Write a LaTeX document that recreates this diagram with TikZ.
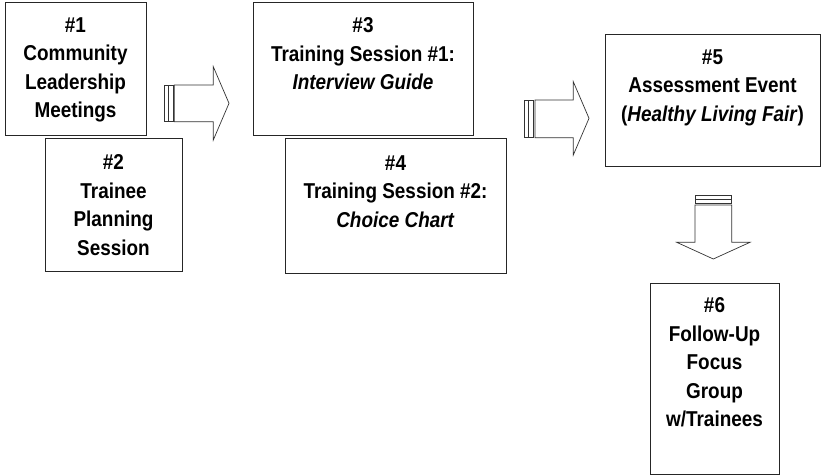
\documentclass[tikz,border=0pt]{standalone}
\usepackage{fontspec}
\setmainfont[FakeStretch=0.88]{Liberation Sans}
\begin{document}
\begin{tikzpicture}[x=1pt,y=-1pt,
  box/.style={draw=black!85,line width=1pt},
  txt/.style={anchor=north,align=center,inner sep=0pt,
    font=\bfseries\fontsize{21.5}{28.5}\selectfont},
  blk/.style={draw=black!80,line width=0.7pt,fill=white,line join=miter},
  bar/.style={draw=black!80,line width=0.6pt,fill=white}]
\useasboundingbox (0,0) rectangle (822,476);
% boxes
\draw[box] (5,3) rectangle (146,136);
\draw[box] (45,139) rectangle (182,271);
\draw[box] (253,3) rectangle (473,136);
\draw[box] (285,139) rectangle (506,273);
\draw[box] (605,35) rectangle (820,167);
\draw[box] (650,283) rectangle (779,474);
% texts
\node[txt] (t1) at (75.5,17.3) {\#1\\Community\\Leadership\\Meetings};
\node[txt] (t2) at (113.5,154.3) {\#2\\Trainee\\Planning\\Session};
\node[txt] (t3) at (363,17.3) {\#3\\Training Session \#1:\\\textit{Interview Guide}};
\node[txt] (t4) at (395.5,155.3) {\#4\\Training Session \#2:\\\textit{Choice Chart}};
\node[txt] (t5) at (712.5,49.3) {\#5\\Assessment Event\\(\textit{Healthy Living Fair})};
\node[txt] (t6) at (714.5,297.3) {\#6\\Follow-Up\\Focus\\Group\\w/Trainees};
% arrow 1
\draw[bar] (164.3,85) rectangle (168.3,121.7);
\draw[bar] (168.3,85) rectangle (173.3,121.7);
\draw[blk] (174.3,85) -- (213.3,85) -- (213.3,66.7) -- (229,103.3) -- (213.3,140) -- (213.3,121.7) -- (174.3,121.7) -- cycle;
% arrow 2
\draw[bar] (524.3,100) rectangle (528.3,137.7);
\draw[bar] (528.3,100) rectangle (533.3,137.7);
\draw[blk] (535,100) -- (573.3,100) -- (573.3,81.7) -- (589,118.3) -- (573.3,155) -- (573.3,137.7) -- (535,137.7) -- cycle;
% arrow 3
\draw[bar] (695,195) rectangle (731.7,199);
\draw[bar] (695,199) rectangle (731.7,203.3);
\draw[blk] (695,205) -- (695,242.3) -- (676.7,242.3) -- (713.3,259) -- (750,242.3) -- (731.7,242.3) -- (731.7,205) -- cycle;
\end{tikzpicture}
\end{document}
